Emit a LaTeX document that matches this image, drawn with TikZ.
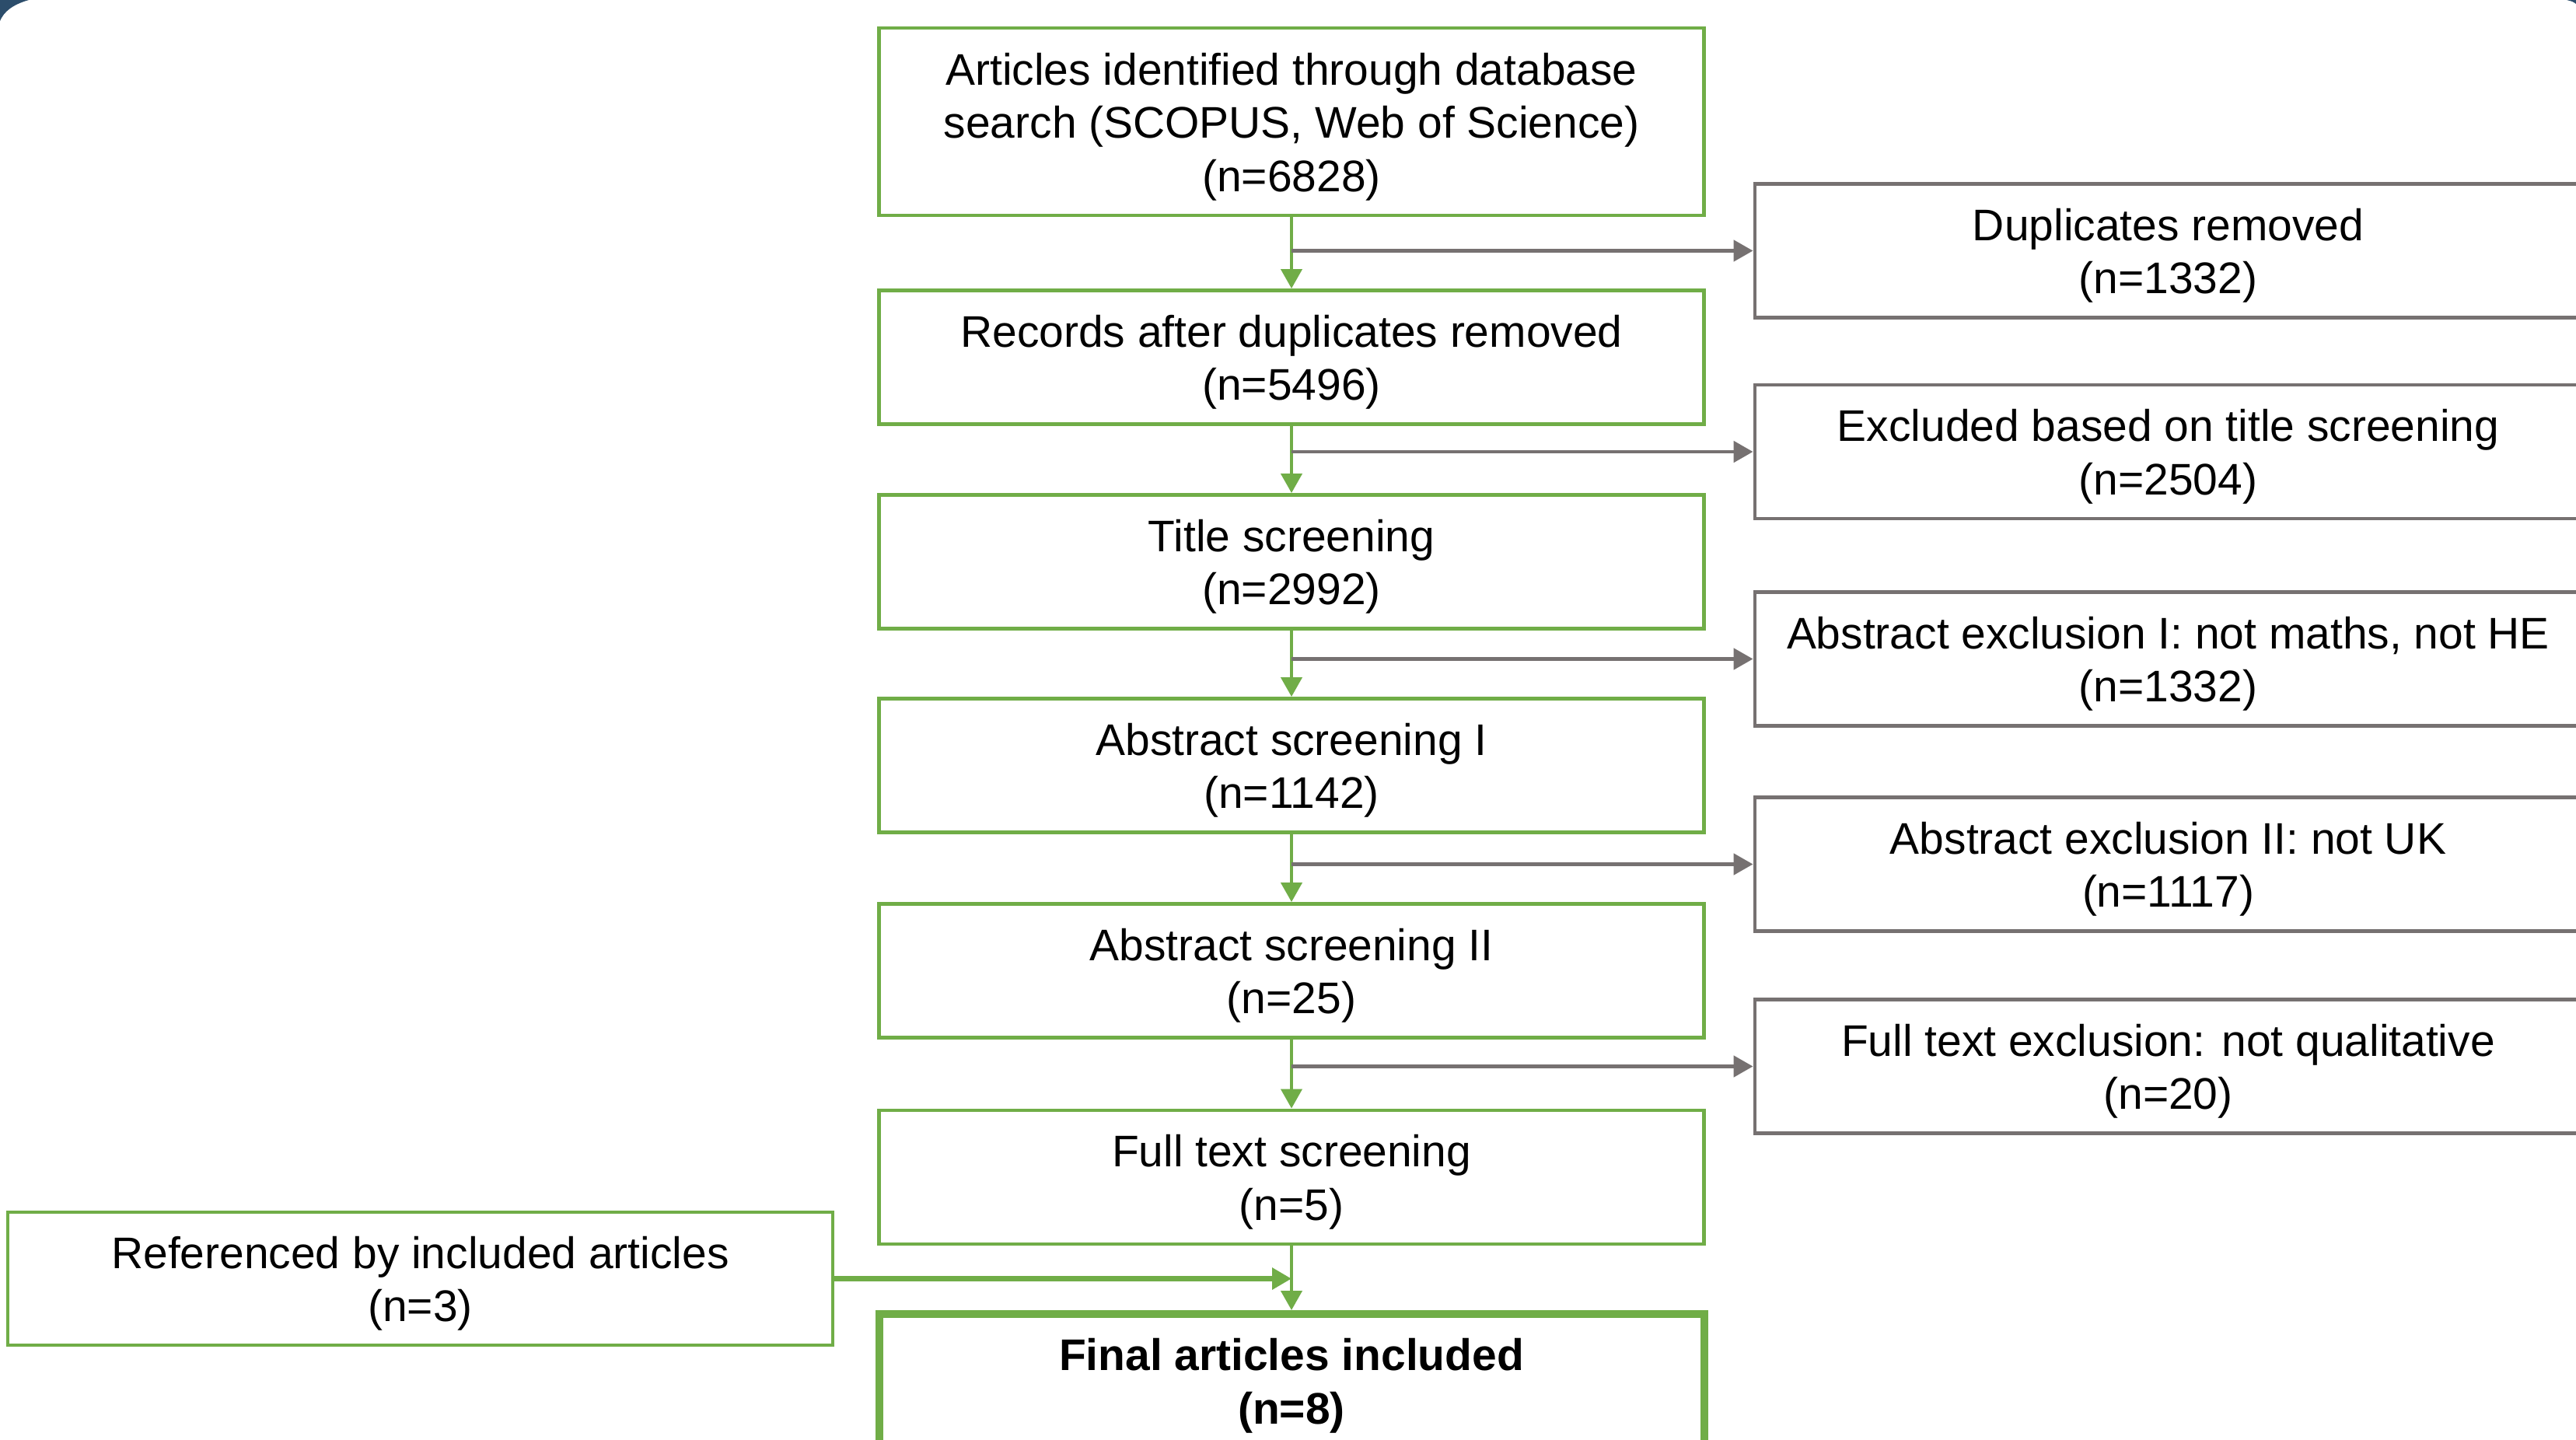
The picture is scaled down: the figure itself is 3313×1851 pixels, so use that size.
\documentclass[tikz,border=0pt]{standalone}
\usepackage{fontspec}
\setmainfont{Liberation Sans}
\usetikzlibrary{arrows.meta}
\definecolor{pgreen}{HTML}{70AD47}
\definecolor{pgray}{HTML}{767171}
\definecolor{pblue}{HTML}{2C4D6B}
\newcommand\topstrut{\rule{0pt}{15.4pt}}
\begin{document}
\begin{tikzpicture}[x=0.1mm,y=-0.1mm,
  txt/.style={align=center,font=\fontsize{16.2}{19.5}\selectfont,inner sep=0pt},
  gbox/.style={txt,rectangle,draw=pgreen,line width=1.4pt,minimum width=106.1mm,minimum height=17.2mm},
  finalbox/.style={gbox,line width=2.85pt,font=\fontsize{16.2}{19.5}\selectfont\bfseries},
  rbox/.style={txt,rectangle,draw=pgray,line width=1.4pt,minimum width=106.3mm,minimum height=17.2mm},
  tipg/.style={-{Triangle[length=2.5mm,width=2.7mm]}},
  garrow/.style={draw=pgreen,line width=1.2pt,tipg},
  grarrow/.style={draw=pgray,line width=1.4pt,tipg},
  larrow/.style={draw=pgreen,line width=2pt,tipg}]
\useasboundingbox (0,0) rectangle (3313,1851);
\fill[white] (0,0) rectangle (3313,1851);
% dark corners of the surrounding frame
\fill[pblue] (0,0) -- (37,0) .. controls (16,6) and (5,15) .. (0,27) -- cycle;
\fill[pblue] (3301,0) -- (3313,0) -- (3313,5) .. controls (3309,2) .. (3301,0) -- cycle;

% main column
\node[gbox,minimum height=24.1mm] (b1) at (1661,156.5) {\topstrut Articles identified through database\\search (SCOPUS, Web of Science)\\(n=6828)};
\node[gbox] (b2) at (1661,459.5) {\topstrut Records after duplicates removed\\(n=5496)};
\node[gbox] (b3) at (1661,722.5) {\topstrut Title screening\\(n=2992)};
\node[gbox] (b4) at (1661,984.5) {\topstrut Abstract screening I\\(n=1142)};
\node[gbox] (b5) at (1661,1248.5) {\topstrut Abstract screening II\\(n=25)};
\node[gbox] (b6) at (1661,1514) {\topstrut Full text screening\\(n=5)};
\node[finalbox] (b7) at (1661,1776) {\topstrut Final articles included\\(n=8)};

% exclusion boxes
\node[rbox] (r1) at (2788.5,322.5) {\topstrut Duplicates removed\\(n=1332)};
\node[rbox] (r2) at (2788.5,581) {\topstrut Excluded based on title screening\\(n=2504)};
\node[rbox] (r3) at (2788.5,847.5) {\topstrut Abstract exclusion I: not maths, not HE\\(n=1332)};
\node[rbox] (r4) at (2788.5,1111.5) {\topstrut Abstract exclusion II: not UK\\(n=1117)};
\node[rbox] (r5) at (2788.5,1371.5) {\topstrut Full text exclusion: not qualitative\\(n=20)};

% referenced box
\node[gbox,minimum height=17.1mm] (lf) at (540.5,1644.5) {\topstrut Referenced by included articles\\(n=3)};

% vertical flow
\draw[garrow] (b1.south) -- (b2.north);
\draw[garrow] (b2.south) -- (b3.north);
\draw[garrow] (b3.south) -- (b4.north);
\draw[garrow] (b4.south) -- (b5.north);
\draw[garrow] (b5.south) -- (b6.north);
\draw[garrow] (b6.south) -- (b7.north);

% exclusions
\draw[grarrow] (b1.south |- r1.west) -- (r1.west);
\draw[grarrow] (b2.south |- r2.west) -- (r2.west);
\draw[grarrow] (b3.south |- r3.west) -- (r3.west);
\draw[grarrow] (b4.south |- r4.west) -- (r4.west);
\draw[grarrow] (b5.south |- r5.west) -- (r5.west);

% referenced articles join
\draw[larrow] (lf.east) -- (lf.east -| b6.south);
\end{tikzpicture}
\end{document}
